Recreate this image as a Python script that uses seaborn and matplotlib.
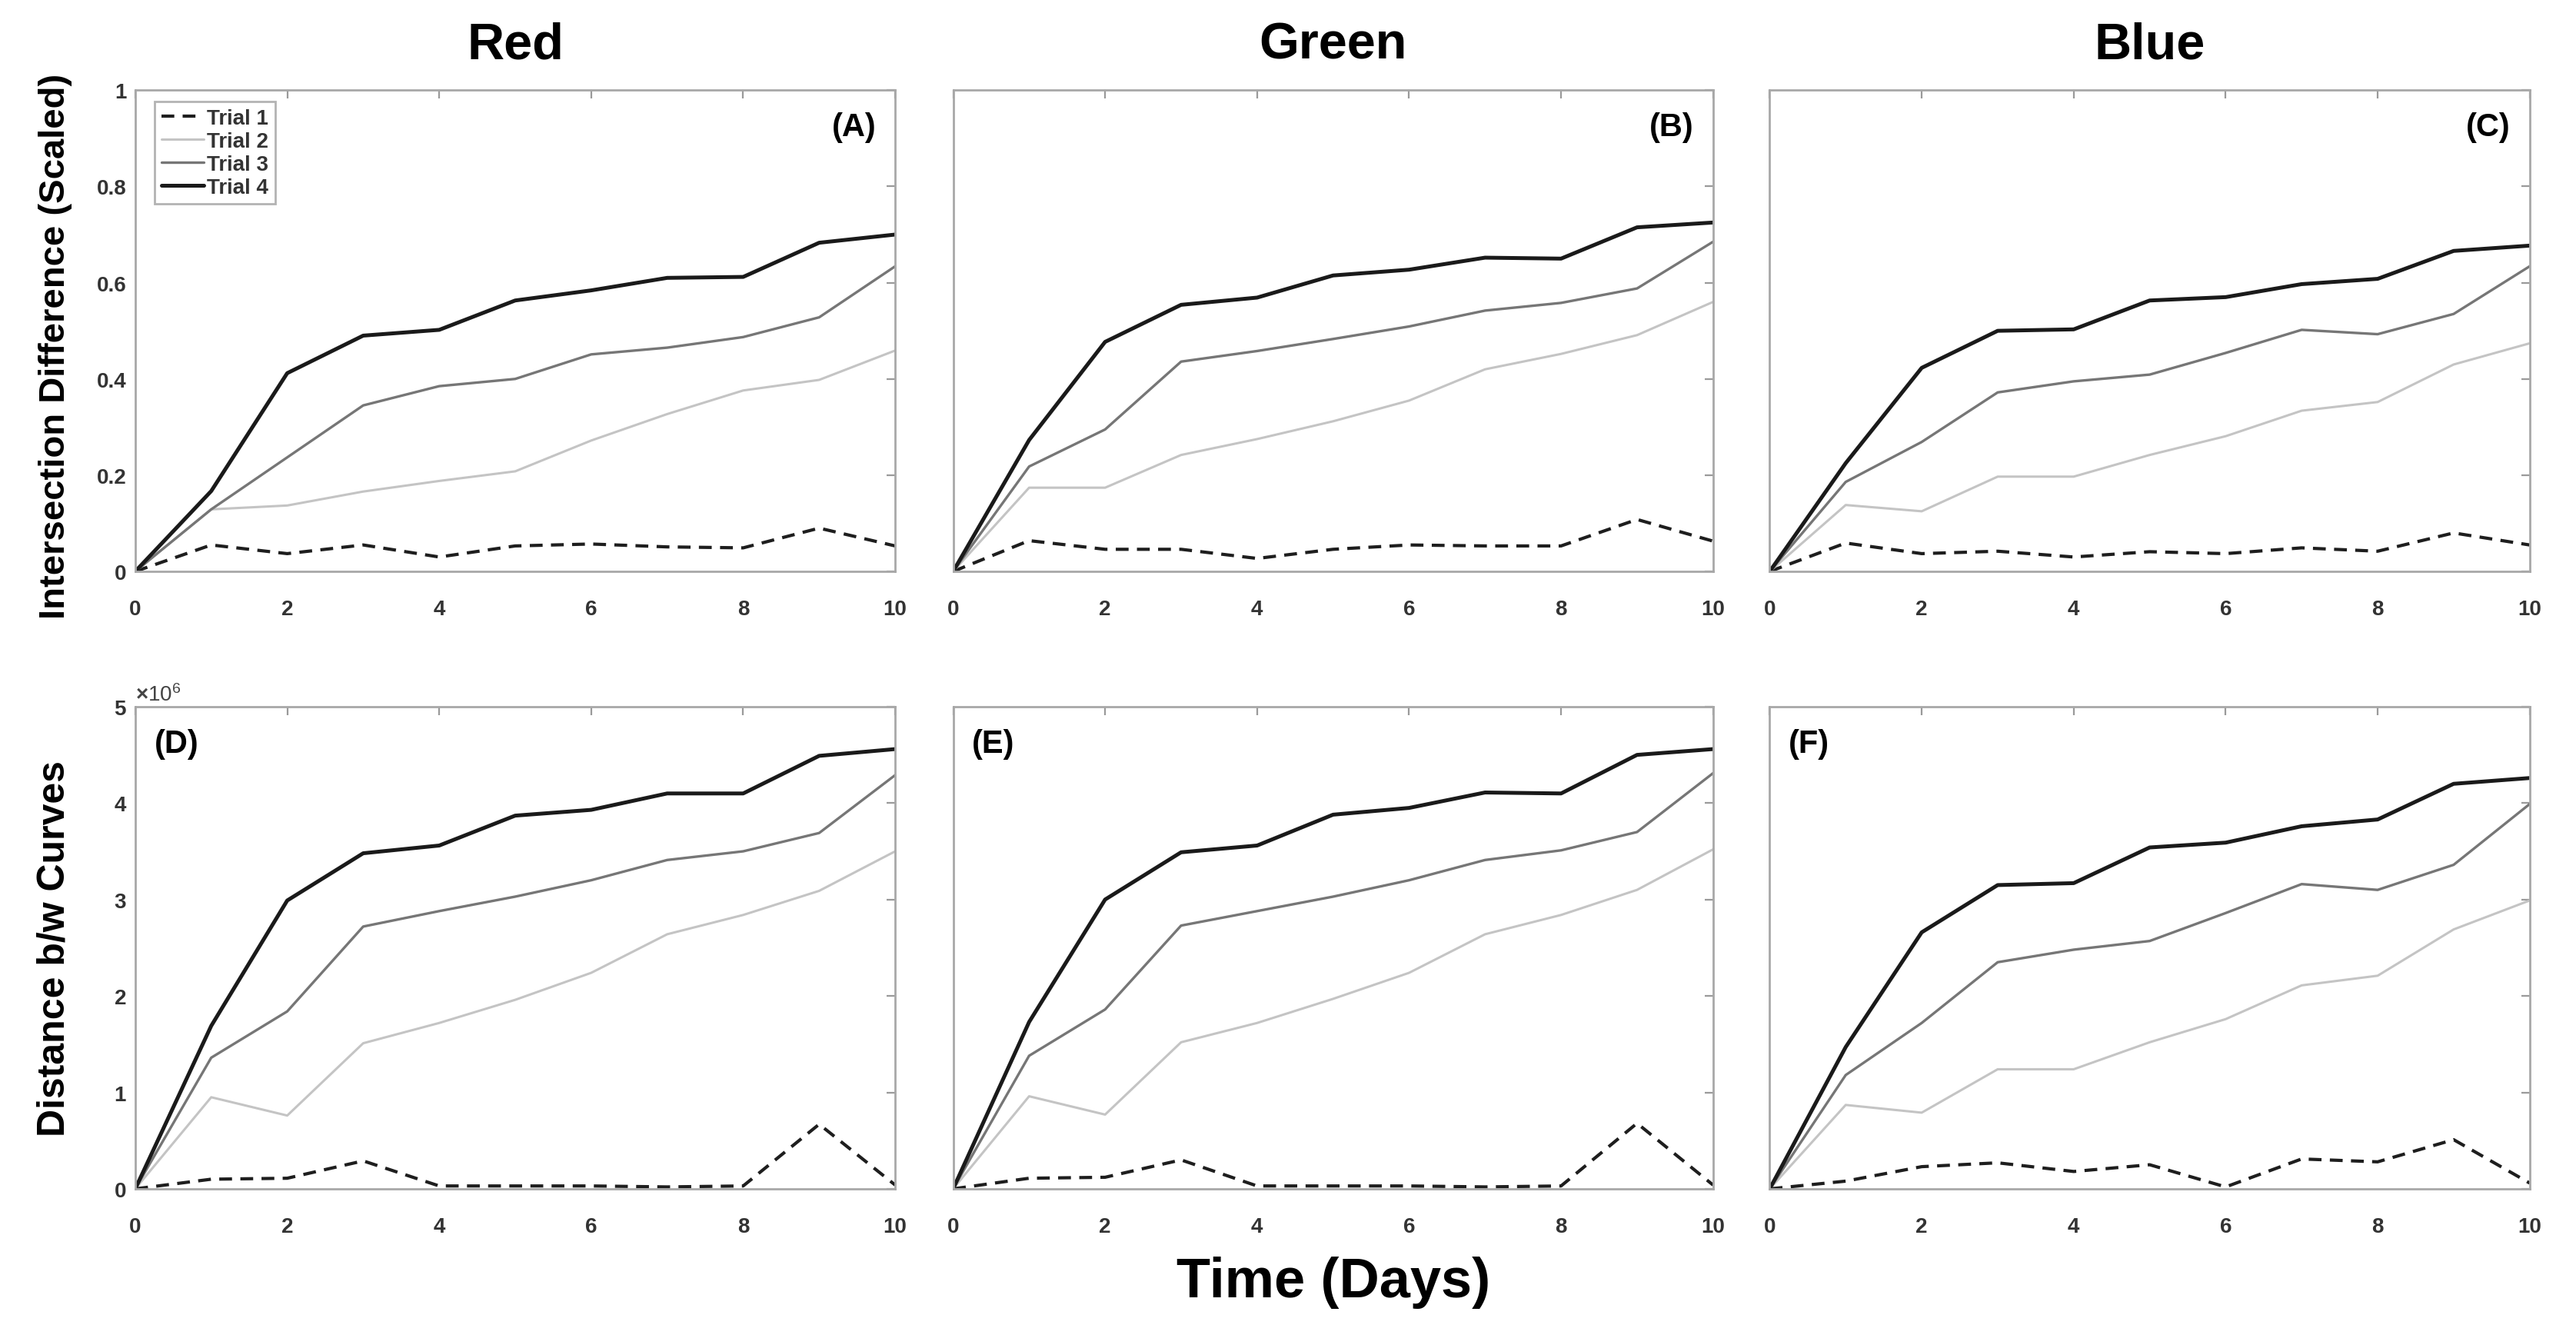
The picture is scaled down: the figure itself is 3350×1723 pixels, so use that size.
import numpy as np
import pandas as pd
import matplotlib
matplotlib.use('Agg')
import matplotlib.pyplot as plt
import seaborn as sns
from matplotlib.ticker import FuncFormatter, ScalarFormatter

# Dias del experimento
dias = [0, 1, 2, 3, 4, 5, 6, 7, 8, 9, 10]
ensayos = ['Trial 1', 'Trial 2', 'Trial 3', 'Trial 4']
canales = ['Red', 'Green', 'Blue']

# Diferencia de interseccion (escalada) - fila superior
inter_red_t1 = [0, 0.055, 0.037, 0.055, 0.030, 0.053, 0.057, 0.051, 0.049, 0.090, 0.053]
inter_red_t2 = [0, 0.129, 0.137, 0.166, 0.188, 0.208, 0.272, 0.327, 0.376, 0.398, 0.459]
inter_red_t3 = [0, 0.129, 0.237, 0.345, 0.385, 0.400, 0.451, 0.465, 0.487, 0.528, 0.634]
inter_red_t4 = [0, 0.167, 0.412, 0.490, 0.502, 0.563, 0.584, 0.610, 0.612, 0.683, 0.700]

inter_green_t1 = [0, 0.064, 0.046, 0.046, 0.027, 0.046, 0.055, 0.053, 0.053, 0.108, 0.063]
inter_green_t2 = [0, 0.174, 0.174, 0.242, 0.275, 0.312, 0.355, 0.420, 0.452, 0.491, 0.560]
inter_green_t3 = [0, 0.218, 0.295, 0.436, 0.458, 0.483, 0.509, 0.542, 0.558, 0.588, 0.685]
inter_green_t4 = [0, 0.273, 0.477, 0.554, 0.569, 0.615, 0.627, 0.652, 0.650, 0.715, 0.725]

inter_blue_t1 = [0, 0.059, 0.037, 0.042, 0.030, 0.041, 0.037, 0.049, 0.042, 0.080, 0.055]
inter_blue_t2 = [0, 0.138, 0.125, 0.197, 0.197, 0.242, 0.281, 0.334, 0.352, 0.430, 0.474]
inter_blue_t3 = [0, 0.186, 0.269, 0.372, 0.395, 0.409, 0.454, 0.502, 0.493, 0.535, 0.634]
inter_blue_t4 = [0, 0.225, 0.423, 0.500, 0.503, 0.563, 0.570, 0.597, 0.608, 0.666, 0.677]

# Distancia entre curvas (en millones) - fila inferior
dist_red_t1 = [0, 0.10, 0.11, 0.29, 0.03, 0.03, 0.03, 0.02, 0.03, 0.67, 0.04]
dist_red_t2 = [0, 0.95, 0.76, 1.51, 1.72, 1.96, 2.24, 2.64, 2.84, 3.09, 3.50]
dist_red_t3 = [0, 1.36, 1.84, 2.72, 2.88, 3.03, 3.20, 3.41, 3.50, 3.69, 4.29]
dist_red_t4 = [0, 1.69, 2.99, 3.48, 3.56, 3.87, 3.93, 4.10, 4.10, 4.49, 4.56]

dist_green_t1 = [0, 0.11, 0.12, 0.30, 0.03, 0.03, 0.03, 0.02, 0.03, 0.68, 0.04]
dist_green_t2 = [0, 0.96, 0.77, 1.52, 1.72, 1.97, 2.24, 2.64, 2.84, 3.10, 3.52]
dist_green_t3 = [0, 1.38, 1.86, 2.73, 2.88, 3.03, 3.20, 3.41, 3.51, 3.70, 4.31]
dist_green_t4 = [0, 1.73, 3.00, 3.49, 3.56, 3.88, 3.95, 4.11, 4.10, 4.50, 4.56]

dist_blue_t1 = [0, 0.08, 0.23, 0.27, 0.18, 0.25, 0.02, 0.31, 0.28, 0.51, 0.06]
dist_blue_t2 = [0, 0.87, 0.79, 1.24, 1.24, 1.52, 1.76, 2.11, 2.21, 2.69, 2.99]
dist_blue_t3 = [0, 1.18, 1.72, 2.35, 2.48, 2.57, 2.86, 3.16, 3.10, 3.36, 3.99]
dist_blue_t4 = [0, 1.47, 2.66, 3.15, 3.17, 3.54, 3.59, 3.76, 3.83, 4.20, 4.26]

inter = {
    'Red': [inter_red_t1, inter_red_t2, inter_red_t3, inter_red_t4],
    'Green': [inter_green_t1, inter_green_t2, inter_green_t3, inter_green_t4],
    'Blue': [inter_blue_t1, inter_blue_t2, inter_blue_t3, inter_blue_t4],
}
dist = {
    'Red': [dist_red_t1, dist_red_t2, dist_red_t3, dist_red_t4],
    'Green': [dist_green_t1, dist_green_t2, dist_green_t3, dist_green_t4],
    'Blue': [dist_blue_t1, dist_blue_t2, dist_blue_t3, dist_blue_t4],
}

# Estilo de cada ensayo
colores = ['#1e1e1e', '#c4c4c4', '#767676', '#1a1a1a']
grosores = [1.5, 1.1, 1.2, 1.8]
estilos = [(0, (4, 2.6)), '-', '-', '-']

sns.set_style('white')
plt.rcParams['font.family'] = ['Liberation Sans', 'DejaVu Sans']
plt.rcParams['font.weight'] = 'bold'
plt.rcParams['text.color'] = 'black'
plt.rcParams['axes.labelcolor'] = 'black'
plt.rcParams['mathtext.fontset'] = 'custom'
plt.rcParams['mathtext.rm'] = 'Liberation Sans'
plt.rcParams['mathtext.it'] = 'Liberation Sans'
plt.rcParams['mathtext.bf'] = 'Liberation Sans:bold'

fig = plt.figure(figsize=(16.75, 8.62), dpi=200)

lefts = [0.0525, 0.3700, 0.6870]
ancho = 0.2950
filas = [(0.5684, 0.3630), (0.1027, 0.3637)]
letras = [['(A)', '(B)', '(C)'], ['(D)', '(E)', '(F)']]


def dibujar(ax, series, escala):
    for i, serie in enumerate(series):
        df = pd.DataFrame({'Dia': dias, 'Valor': np.array(serie) * escala})
        sns.lineplot(data=df, x='Dia', y='Valor', ax=ax, color=colores[i],
                     linewidth=grosores[i], linestyle=estilos[i], label=ensayos[i])
    ax.set_xlim(0, 10)
    ax.set_xticks([0, 2, 4, 6, 8, 10])
    ax.tick_params(direction='in', top=True, right=True, length=4, width=0.8,
                   color='#9a9a9a', labelsize=10, labelcolor='#333333')
    ax.tick_params(axis='x', pad=13)
    ax.tick_params(axis='y', pad=4)
    for s in ax.spines.values():
        s.set_color('#a8a8a8')
        s.set_linewidth(1.0)
    ax.set_xlabel('')
    ax.set_ylabel('')


for c, canal in enumerate(canales):
    # fila superior
    ax = fig.add_axes([lefts[c], filas[0][0], ancho, filas[0][1]])
    dibujar(ax, inter[canal], 1.0)
    ax.set_ylim(0, 1)
    ax.set_yticks([0, 0.2, 0.4, 0.6, 0.8, 1])
    ax.yaxis.set_major_formatter(FuncFormatter(lambda v, p: '%g' % v))
    ax.text(0.975, 0.955, letras[0][c], transform=ax.transAxes, ha='right', va='top',
            fontsize=15, fontweight='bold')
    ax.set_title(canal, fontsize=24, fontweight='bold', pad=15)
    if c == 0:
        ax.legend(loc='upper left', bbox_to_anchor=(0.02, 0.985), fontsize=10, frameon=True,
                  fancybox=False, edgecolor='#a0a0a0', handlelength=2.0, handletextpad=0.15,
                  labelspacing=0.15, borderpad=0.3, borderaxespad=0.2, labelcolor='#333333')
        ax.set_ylabel('Intersection Difference (Scaled)', fontsize=17, fontweight='bold')
        ax.yaxis.set_label_coords(-0.083, 0.47)
    else:
        ax.get_legend().remove()
        ax.set_yticklabels([])

    # fila inferior
    ax = fig.add_axes([lefts[c], filas[1][0], ancho, filas[1][1]])
    dibujar(ax, dist[canal], 1e6)
    ax.get_legend().remove()
    ax.set_ylim(0, 5e6)
    ax.set_yticks(np.arange(0, 6) * 1e6)
    fmt = ScalarFormatter(useMathText=True)
    fmt.set_powerlimits((0, 0))
    ax.yaxis.set_major_formatter(fmt)
    ax.yaxis.get_offset_text().set_fontsize(10)
    ax.yaxis.get_offset_text().set_color('#444444')
    ax.yaxis.get_offset_text().set_fontweight('normal')
    ax.text(0.025, 0.955, letras[1][c], transform=ax.transAxes, ha='left', va='top',
            fontsize=15, fontweight='bold')
    if c == 0:
        ax.set_ylabel('Distance b/w Curves', fontsize=18, fontweight='bold')
        ax.yaxis.set_label_coords(-0.083, 0.5)
    else:
        ax.set_yticklabels([])
        ax.yaxis.get_offset_text().set_visible(False)
    if c == 1:
        ax.set_xlabel('Time (Days)', fontsize=26, fontweight='bold', labelpad=9)

fig.savefig('out.png', dpi=200, facecolor='white')
